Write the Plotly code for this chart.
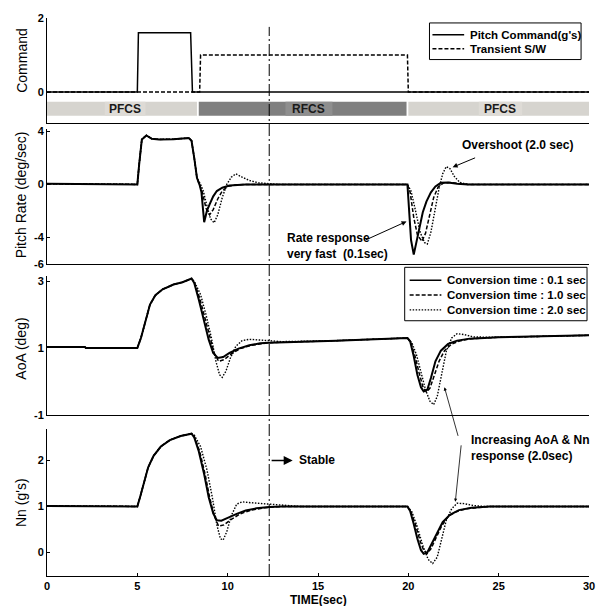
import plotly.graph_objects as go

# ---------------- data ----------------
# Command panel
CMD_PITCH = [(0, 0), (5.0, 0), (5.06, 1.6), (7.95, 1.6), (8.05, 0), (30, 0)]
CMD_SW = [(0, 0), (8.45, 0), (8.5, 1.0), (19.95, 1.0), (20.0, 0), (30, 0)]

# Pitch rate (deg/sec)
Q_01 = [(0, 0.05), (1.15, 0.05), (1.2, 0), (5.0, 0), (5.1, 1.5), (5.25, 3.4), (5.5, 3.7), (5.8, 3.45),
        (6.2, 3.4), (7.0, 3.42), (7.85, 3.5), (8.0, 3.3), (8.15, 2.0), (8.3, 0.5), (8.45, -0.05),
        (8.55, -0.6), (8.7, -2.85), (8.85, -2.0), (9.0, -1.5), (9.2, -0.9), (9.4, -0.5), (9.7, -0.25),
        (10.1, -0.08), (11.0, 0), (19.95, 0), (20.05, -1.8), (20.15, -4.2), (20.3, -5.3), (20.45, -4.3),
        (20.6, -3.2), (20.8, -2.1), (21.0, -1.3), (21.25, -0.6), (21.5, -0.15), (21.8, 0.12), (22.2, 0.15),
        (22.7, 0.05), (23.3, 0), (30, 0)]
Q_10 = [(0, 0.05), (1.15, 0.05), (1.2, 0), (5.0, 0), (5.1, 1.5), (5.25, 3.4), (5.5, 3.7), (5.8, 3.45),
        (6.2, 3.4), (7.0, 3.42), (7.85, 3.5), (8.0, 3.3), (8.15, 2.0), (8.3, 0.5), (8.45, -0.05),
        (8.6, -0.6), (8.8, -1.8), (9.0, -2.3), (9.2, -1.9), (9.45, -1.1), (9.7, -0.5), (10.0, -0.15),
        (10.5, -0.03), (11.2, 0), (19.95, 0), (20.1, -0.6), (20.3, -2.5), (20.5, -3.8), (20.75, -4.3),
        (20.95, -3.7), (21.15, -2.5), (21.4, -1.0), (21.65, -0.2), (21.95, 0.12), (22.3, 0.15),
        (22.8, 0.05), (23.3, 0), (30, 0)]
Q_20 = [(0, 0.05), (1.15, 0.05), (1.2, 0), (5.0, 0), (5.1, 1.5), (5.25, 3.4), (5.5, 3.7), (5.8, 3.45),
        (6.2, 3.4), (7.0, 3.42), (7.85, 3.5), (8.0, 3.3), (8.15, 2.0), (8.3, 0.5), (8.5, 0.0),
        (8.65, -0.5), (8.85, -1.6), (9.05, -2.6), (9.25, -2.9), (9.45, -2.3), (9.7, -1.0), (9.95, 0.0),
        (10.2, 0.55), (10.45, 0.8), (10.8, 0.55), (11.2, 0.3), (11.7, 0.12), (12.3, 0.03), (12.8, 0),
        (19.95, 0), (20.15, -0.5), (20.4, -2.0), (20.65, -3.6), (20.9, -4.4), (21.05, -4.5), (21.25, -3.6),
        (21.45, -2.0), (21.7, -0.3), (21.9, 0.8), (22.1, 1.35), (22.3, 1.2), (22.55, 0.6), (22.85, 0.15),
        (23.3, 0), (30, 0)]

# AoA (deg)
A_01 = [(0, 1.03), (2.1, 1.03), (2.15, 1.0), (5.0, 1.0), (5.2, 1.3), (5.45, 1.8), (5.7, 2.3), (6.0, 2.58),
        (6.4, 2.76), (7.0, 2.9), (7.5, 2.97), (8.0, 3.08), (8.15, 2.95), (8.4, 2.45), (8.7, 1.8),
        (8.95, 1.25), (9.2, 0.85), (9.45, 0.7), (9.75, 0.73), (10.1, 0.85), (10.6, 0.98), (11.2, 1.08),
        (11.8, 1.14), (12.3, 1.16), (16, 1.22), (19.95, 1.3), (20.1, 1.2), (20.3, 0.75), (20.5, 0.2),
        (20.7, -0.18), (20.85, -0.3), (21.05, -0.25), (21.25, 0.1), (21.5, 0.6), (21.8, 0.92),
        (22.2, 1.12), (22.7, 1.22), (23.4, 1.28), (25, 1.32), (30, 1.38)]
A_10 = [(0, 1.03), (2.1, 1.03), (2.15, 1.0), (5.0, 1.0), (5.2, 1.3), (5.45, 1.8), (5.7, 2.3), (6.0, 2.58),
        (6.4, 2.76), (7.0, 2.9), (7.5, 2.97), (8.0, 3.08), (8.15, 2.97), (8.45, 2.5), (8.75, 1.85),
        (9.0, 1.3), (9.25, 0.85), (9.5, 0.6), (9.8, 0.65), (10.2, 0.82), (10.7, 0.98), (11.3, 1.08),
        (11.9, 1.14), (12.3, 1.16), (16, 1.22), (19.95, 1.3), (20.15, 1.15), (20.35, 0.8), (20.6, 0.25),
        (20.8, -0.15), (21.0, -0.32), (21.2, -0.2), (21.45, 0.2), (21.7, 0.6), (22.0, 0.92), (22.4, 1.12),
        (22.9, 1.22), (23.5, 1.28), (25, 1.32), (30, 1.38)]
A_20 = [(0, 1.03), (2.1, 1.03), (2.15, 1.0), (5.0, 1.0), (5.2, 1.3), (5.45, 1.8), (5.7, 2.3), (6.0, 2.58),
        (6.4, 2.76), (7.0, 2.9), (7.5, 2.97), (8.0, 3.08), (8.15, 3.0), (8.5, 2.6), (8.8, 2.0), (9.1, 1.3),
        (9.35, 0.6), (9.55, 0.2), (9.7, 0.12), (9.9, 0.3), (10.15, 0.7), (10.45, 1.05), (10.8, 1.22),
        (11.2, 1.26), (11.8, 1.25), (12.3, 1.22), (13, 1.19), (16, 1.22), (19.95, 1.3), (20.2, 1.15),
        (20.45, 0.8), (20.7, 0.3), (20.95, -0.25), (21.2, -0.6), (21.4, -0.7), (21.6, -0.45), (21.85, 0.25),
        (22.1, 0.9), (22.4, 1.3), (22.7, 1.43), (23.1, 1.4), (23.6, 1.33), (25, 1.32), (30, 1.38)]

# Nn (g's)
N_01 = [(0, 1.01), (1.15, 1.01), (1.2, 1.0), (5.0, 1.0), (5.15, 1.2), (5.35, 1.5), (5.6, 1.85), (5.9, 2.1),
        (6.3, 2.3), (6.8, 2.44), (7.4, 2.53), (8.0, 2.58), (8.15, 2.5), (8.4, 2.2), (8.7, 1.7), (8.95, 1.2),
        (9.2, 0.85), (9.4, 0.7), (9.65, 0.69), (10.0, 0.75), (10.5, 0.84), (11.0, 0.91), (11.6, 0.96),
        (12.3, 0.99), (13, 1.0), (19.95, 1.0), (20.1, 0.9), (20.3, 0.62), (20.5, 0.3), (20.7, 0.05),
        (20.85, -0.03), (21.05, 0.0), (21.3, 0.2), (21.6, 0.45), (21.9, 0.66), (22.3, 0.82), (22.8, 0.92),
        (23.5, 0.97), (24.5, 1.0), (30, 1.0)]
N_10 = [(0, 1.01), (1.15, 1.01), (1.2, 1.0), (5.0, 1.0), (5.15, 1.2), (5.35, 1.5), (5.6, 1.85), (5.9, 2.1),
        (6.3, 2.3), (6.8, 2.44), (7.4, 2.53), (8.0, 2.58), (8.15, 2.52), (8.45, 2.2), (8.75, 1.7), (9.0, 1.2),
        (9.25, 0.8), (9.5, 0.57), (9.8, 0.6), (10.2, 0.72), (10.7, 0.84), (11.3, 0.92), (12.0, 0.97),
        (12.6, 0.99), (13.2, 1.0), (19.95, 1.0), (20.15, 0.88), (20.4, 0.6), (20.65, 0.25), (20.85, 0.05),
        (21.05, -0.02), (21.25, 0.08), (21.5, 0.3), (21.85, 0.58), (22.2, 0.78), (22.6, 0.88), (23.2, 0.95),
        (24.0, 0.99), (24.5, 1.0), (30, 1.0)]
N_20 = [(0, 1.01), (1.15, 1.01), (1.2, 1.0), (5.0, 1.0), (5.15, 1.2), (5.35, 1.5), (5.6, 1.85), (5.9, 2.1),
        (6.3, 2.3), (6.8, 2.44), (7.4, 2.53), (8.0, 2.58), (8.15, 2.55), (8.5, 2.3), (8.85, 1.8), (9.15, 1.2),
        (9.4, 0.6), (9.6, 0.3), (9.75, 0.27), (9.95, 0.45), (10.2, 0.8), (10.5, 1.05), (10.8, 1.1),
        (11.3, 1.08), (12.0, 1.06), (12.6, 1.03), (13.3, 1.01), (14, 1.0), (19.95, 1.0), (20.2, 0.88),
        (20.5, 0.55), (20.8, 0.15), (21.1, -0.15), (21.35, -0.24), (21.6, -0.1), (21.85, 0.3), (22.1, 0.7),
        (22.4, 0.95), (22.7, 1.07), (23.1, 1.06), (23.6, 1.02), (24.2, 1.0), (30, 1.0)]

# Mode bands (start, end, label, label_start, label_end)
BANDS = [(0, 8.3, "PFCS", 3.2, 5.45), (8.4, 19.9, "RFCS", 13.2, 15.8), (20.0, 30, "PFCS", 23.9, 26.3)]
SWITCH_TIME = 12.3

X_TICKS = [0, 5, 10, 15, 20, 25, 30]
Y1_TICKS = [0, 2]
Y2_TICKS = [-6, -4, 0, 4]
Y3_TICKS = [-1, 1, 3]
Y4_TICKS = [0, 1, 2]
CMD_NAMES = ["Pitch Command(g's)", "Transient S/W"]
LEGEND_NAMES = ["Conversion time : 0.1 sec", "Conversion time : 1.0 sec", "Conversion time : 2.0 sec"]

# ---------------- layout helpers ----------------
W, H = 607, 606
ML, MR, MT, MB = 47, 13, 12, 30
PH = H - MT - MB
PW = W - ML - MR
FONT = "Liberation Sans, Arial, sans-serif"


def ypap(p):
    return (H - MB - p) / PH


def xpap(p):
    return (p - ML) / PW


def xs(series):
    return [p[0] for p in series]


def ys(series):
    return [p[1] for p in series]


fig = go.Figure()

SOLID = dict(color="black", width=2)
DASHED = dict(color="black", width=1.5, dash="4px,2px")
DOTTED = dict(color="black", width=1.4, dash="1.5px,1.5px")
CMD_SOLID = dict(color="black", width=1.5)
CMD_DASH = dict(color="black", width=1.5, dash="4px,2px")

# Command panel
fig.add_trace(go.Scatter(x=xs(CMD_SW), y=ys(CMD_SW), mode="lines", name=CMD_NAMES[1],
                         line=CMD_DASH, xaxis="x", yaxis="y", showlegend=False))
fig.add_trace(go.Scatter(x=xs(CMD_PITCH), y=ys(CMD_PITCH), mode="lines", name=CMD_NAMES[0],
                         line=CMD_SOLID, xaxis="x", yaxis="y", showlegend=False))

panels = [("x2", "y2", [Q_01, Q_10, Q_20]),
          ("x3", "y3", [A_01, A_10, A_20]),
          ("x4", "y4", [N_01, N_10, N_20])]
styles = [SOLID, DASHED, DOTTED]
for xa, ya, series in panels:
    for i in (2, 1, 0):
        s = series[i]
        fig.add_trace(go.Scatter(x=xs(s), y=ys(s), mode="lines", name=LEGEND_NAMES[i],
                                 line=styles[i], xaxis=xa, yaxis=ya, showlegend=False))

shapes = []
for (a, b, lab, la, lb) in BANDS:
    dark = lab == "RFCS"
    shapes.append(dict(type="rect", xref="x", yref="y", x0=a, x1=b, y0=-0.64, y1=-0.26,
                       fillcolor="#7f7f7f" if dark else "#d6d4cf", line=dict(width=0), layer="below"))
    shapes.append(dict(type="rect", xref="x", yref="y", x0=la, x1=lb, y0=-0.64, y1=-0.26,
                       fillcolor="#8e8e8e" if dark else "#dedbd6", line=dict(width=0), layer="below"))
shapes.append(dict(type="line", xref="x4", yref="paper", x0=SWITCH_TIME, x1=SWITCH_TIME,
                   y0=0, y1=ypap(21), line=dict(color="black", width=1, dash="12px,3px,2px,3px")))

ann = []
for (a, b, lab, la, lb) in BANDS:
    ann.append(dict(x=(la + lb) / 2, y=-0.45, xref="x", yref="y", text=lab, showarrow=False,
                    font=dict(family=FONT, size=12, color="#1a1a1a", weight="bold")))

ytitles = [("Command", 55), ("Pitch Rate (deg/sec)", 191), ("AoA (deg)", 346), ("Nn (g's)", 502)]
for t, p in ytitles:
    ann.append(dict(x=xpap(21), y=ypap(p), xref="paper", yref="paper", text=t, textangle=-90,
                    showarrow=False, xanchor="center", yanchor="middle",
                    font=dict(family=FONT, size=14, color="black")))

ann.append(dict(x=0.5, y=ypap(600), xref="paper", yref="paper", text="TIME(sec)", showarrow=False,
                xanchor="center", yanchor="middle",
                font=dict(family=FONT, size=12, color="black", weight="bold")))

BOLD = dict(family=FONT, size=12, color="black", weight="bold")
LEGF = dict(family=FONT, size=11.5, color="black", weight="bold")

# ---- manual legends (boxes, line samples, labels) ----
LEG1 = dict(box=(433, 586, 17, 54), rows=[29, 43], sample=(436, 468), text_x=472,
            items=[(CMD_SOLID, CMD_NAMES[0]), (CMD_DASH, CMD_NAMES[1])])
LEG2 = dict(box=(408, 592, 264, 318), rows=[277, 292, 307], sample=(413, 445), text_x=449,
            items=[(SOLID, LEGEND_NAMES[0]), (DASHED, LEGEND_NAMES[1]), (DOTTED, LEGEND_NAMES[2])])
for leg in (LEG1, LEG2):
    x0, x1, y0, y1 = leg["box"]
    shapes.append(dict(type="rect", xref="paper", yref="paper", x0=xpap(x0), x1=xpap(x1),
                       y0=ypap(y1), y1=ypap(y0), fillcolor="white", line=dict(color="black", width=1)))
    for row, (style, name) in zip(leg["rows"], leg["items"]):
        sl = dict(color="black", width=min(style["width"], 1.6))
        if "dash" in style:
            sl["dash"] = style["dash"]
        shapes.append(dict(type="line", xref="paper", yref="paper", x0=xpap(leg["sample"][0]),
                           x1=xpap(leg["sample"][1]), y0=ypap(row), y1=ypap(row), line=sl))
        ann.append(dict(x=xpap(leg["text_x"]), y=ypap(row), xref="paper", yref="paper", text=name,
                        showarrow=False, xanchor="left", yanchor="middle", font=LEGF))

# Overshoot
ann.append(dict(x=26.05, y=2.95, xref="x2", yref="y2", text="Overshoot (2.0 sec)", showarrow=False,
                font=BOLD))
ann.append(dict(x=22.45, y=1.3, xref="x2", yref="y2", ax=24, ay=-10, text="", showarrow=True,
                arrowhead=2, arrowsize=1, arrowwidth=1, arrowcolor="black"))
# Rate response
ann.append(dict(x=13.15, y=-4.65, xref="x2", yref="y2", xanchor="left", align="left",
                text="Rate response<br>very fast&nbsp; (0.1sec)", showarrow=False, font=BOLD))
ann.append(dict(x=19.9, y=-2.8, xref="x2", yref="y2", ax=-42, ay=19, text="", showarrow=True,
                arrowhead=2, arrowsize=1, arrowwidth=1, arrowcolor="black"))
# Stable
ann.append(dict(x=13.6, y=2.0, xref="x4", yref="y4", axref="x4", ayref="y4", ax=SWITCH_TIME + 0.05, ay=2.0,
                text="", showarrow=True, arrowhead=2, arrowsize=1.2, arrowwidth=1.5, arrowcolor="black"))
ann.append(dict(x=13.85, y=2.0, xref="x4", yref="y4", xanchor="left", text="Stable", showarrow=False,
                font=BOLD))
# Increasing AoA & Nn
ann.append(dict(x=23.35, y=2.27, xref="x4", yref="y4", xanchor="left", align="left",
                text="Increasing AoA &amp; Nn<br>response (2.0sec)", showarrow=False, font=BOLD))
ann.append(dict(x=22.0, y=-0.18, xref="x3", yref="y3", ax=14, ay=50, text="", showarrow=True,
                arrowhead=2, arrowsize=0.8, arrowwidth=0.8, arrowcolor="black"))
ann.append(dict(x=22.6, y=1.1, xref="x4", yref="y4", ax=6, ay=-58, text="", showarrow=True,
                arrowhead=2, arrowsize=0.8, arrowwidth=0.8, arrowcolor="black"))

TICKF = dict(family=FONT, size=11, color="black", weight="bold")


def yax(domain, rng, ticks):
    return dict(domain=domain, range=rng, tickvals=ticks, ticktext=[str(t) for t in ticks],
                showline=True, linecolor="black", linewidth=1,
                ticks="inside", ticklen=3, tickcolor="black", tickfont=TICKF, zeroline=False,
                showgrid=False, fixedrange=True)


def xax(anchor, labels):
    return dict(domain=[0, 1], range=[0, 30], anchor=anchor, tickvals=X_TICKS, showticklabels=labels,
                showline=True, linecolor="black", linewidth=1, ticks="inside" if labels else "",
                ticklen=3, tickcolor="black", tickfont=TICKF, zeroline=False, showgrid=False)


fig.update_layout(
    width=W, height=H, margin=dict(l=ML, r=MR, t=MT, b=MB),
    paper_bgcolor="white", plot_bgcolor="white", showlegend=False,
    font=dict(family=FONT, color="black"),
    xaxis=xax("y", False), xaxis2=xax("y2", False), xaxis3=xax("y3", False), xaxis4=xax("y4", True),
    yaxis=yax([ypap(118), 1.0], [-0.83, 2], Y1_TICKS),
    yaxis2=yax([ypap(260.5), ypap(124)], [-6, 4.2], Y2_TICKS),
    yaxis3=yax([ypap(413), ypap(273)], [-1, 3.15], Y3_TICKS),
    yaxis4=yax([0, ypap(427)], [-0.51, 2.69], Y4_TICKS),
    shapes=shapes, annotations=ann,
)

fig.write_html("out.html")
